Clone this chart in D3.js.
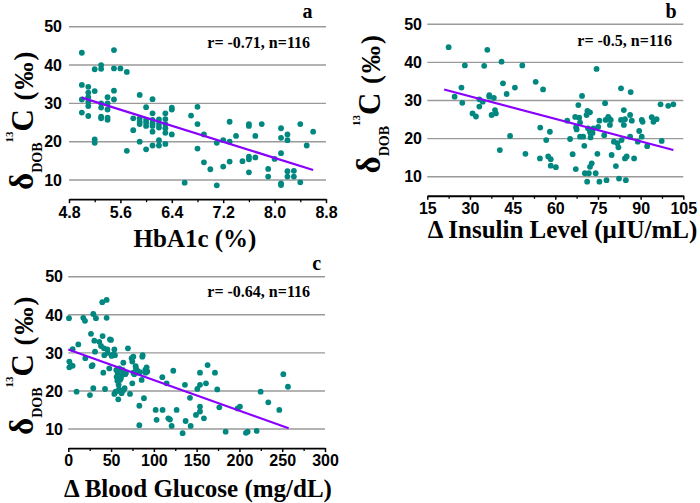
<!DOCTYPE html>
<html><head><meta charset="utf-8">
<script src="https://cdn.jsdelivr.net/npm/d3@7"></script>
<style>html,body{margin:0;padding:0;background:#fff;}svg{display:block;}</style>
</head><body>
<svg id="chart" width="700" height="503"></svg>
<script>
// ---------- DATA ----------
const yTicks = [10, 20, 30, 40, 50];

// Panel a: HbA1c (%)
const aTicks = [4.8, 5.6, 6.4, 7.2, 8.0, 8.8];
const aX = [5.0,5.5,5.0,5.1,5.0,5.1,5.1,5.0,5.1,5.1,5.1,5.2,5.3,5.3,5.5,5.6,5.7,5.2,5.3,5.3,5.3,5.3,5.4,5.4,5.4,5.4,5.4,5.5,5.5,5.2,5.2,5.7,5.8,5.8,5.9,5.9,5.9,5.9,5.9,6.0,6.0,6.0,6.0,6.0,6.1,6.1,6.1,6.1,6.1,6.1,6.1,6.2,6.2,6.2,6.2,6.2,6.3,6.3,6.3,6.3,6.3,6.3,6.4,6.4,6.4,6.6,6.7,6.8,6.8,6.8,6.9,6.9,7.0,7.1,7.1,7.2,7.2,7.3,7.3,7.3,7.4,7.5,7.6,7.6,7.6,7.6,7.6,7.7,7.7,7.8,7.9,7.9,8.0,8.1,8.1,8.1,8.1,8.1,8.2,8.2,8.2,8.2,8.3,8.3,8.4,8.4,8.5,8.6];
const aY = [43.2,43.9,34.8,34.3,31.0,31.6,30.4,27.6,29.3,26.7,32.8,38.9,40.0,39.0,39.1,39.1,38.2,33.2,30.0,28.9,26.5,26.1,31.6,30.0,28.4,26.3,25.7,33.3,31.0,20.6,19.7,17.6,26.1,23.0,32.2,26.1,25.2,24.6,20.0,29.0,25.7,25.0,24.1,18.0,31.1,27.4,25.7,24.8,24.1,22.6,19.0,25.8,24.6,23.7,20.4,19.0,27.4,25.9,24.6,23.5,22.3,19.4,28.9,28.4,21.9,9.3,26.8,29.1,24.6,18.2,21.9,14.6,12.8,8.6,19.7,20.4,13.5,25.2,20.0,14.8,21.5,14.9,24.6,24.1,16.1,15.4,12.0,15.9,21.5,24.6,12.9,10.9,15.5,23.5,21.0,17.0,9.1,8.7,21.9,20.4,12.3,10.9,12.4,10.9,24.6,9.4,19.0,22.6];
const aFitX = [5.0, 8.6];
const aFitY = [31.5, 12.6];

// Panel b: Insulin level
const bTicks = [15, 30, 45, 60, 75, 90, 105];
const bX = [22.5,24.6,27.0,27.3,28.2,30.9,32.1,33.3,33.3,34.5,35.0,36.1,36.8,36.8,37.6,38.4,38.8,39.1,40.5,41.1,41.6,42.9,44.1,45.8,48.4,49.5,53.1,54.6,54.7,55.7,56.8,57.5,58.1,58.4,58.4,60.2,64.2,65.2,66.1,67.0,67.3,67.5,67.2,68.1,68.4,68.7,68.7,69.4,69.8,70.2,70.4,71.0,71.3,71.5,71.8,71.2,72.2,72.2,72.4,72.4,72.8,72.2,73.1,73.4,74.2,74.5,74.8,75.1,75.5,75.5,77.2,77.5,77.7,78.0,78.6,78.9,79.2,79.5,79.8,80.6,81.3,81.8,82.2,82.4,83.1,83.1,83.3,84.1,84.1,84.5,84.5,84.8,85.1,86.3,86.3,86.5,86.9,87.7,89.0,89.5,90.4,90.4,90.7,92.3,93.9,94.5,95.6,97.0,97.4,99.7,101.5];
const bY = [44.0,31.0,33.4,29.4,39.2,26.6,25.8,30.3,28.4,29.7,39.1,43.3,31.0,31.4,26.2,30.7,27.5,26.6,17.0,40.2,34.5,31.7,20.7,33.4,39.2,16.0,34.9,14.8,22.9,32.9,19.6,15.3,21.8,14.6,12.9,12.5,24.7,19.9,15.9,25.7,23.0,22.4,12.0,28.8,25.5,24.2,20.5,31.2,20.5,18.1,10.9,26.2,27.3,22.7,10.9,8.7,26.9,21.8,20.3,21.5,13.5,12.6,21.5,22.7,10.9,38.3,16.0,23.1,24.7,8.7,20.9,29.3,24.9,9.1,25.7,25.3,23.6,24.9,15.7,19.2,12.8,18.8,17.7,9.5,33.2,24.9,19.6,27.5,23.6,25.1,14.8,9.1,15.3,20.5,26.2,32.2,24.7,14.8,19.2,22.0,20.5,24.9,24.4,18.0,25.6,24.4,25.1,29.0,19.4,28.6,29.0];
const bFitX = [20.9, 101.5];
const bFitY = [32.9, 17.0];

// Panel c: Blood glucose
const cTicks = [0, 50, 100, 150, 200, 250, 300];
const cX = [0.8,1.2,1.2,3.1,5.1,5.1,9.7,11.7,17.5,19.5,19.9,25.3,26.5,27.3,28.4,29.2,29.2,30.4,31.2,32.3,36.2,38.2,39.7,40.1,40.9,41.7,42.1,42.9,44.8,44.8,45.6,46.0,47.9,48.7,49.9,50.6,52.6,53.8,53.8,54.5,55.3,56.1,56.5,57.3,57.7,58.4,58.8,59.2,59.6,60.4,61.2,61.5,62.3,62.7,63.5,64.3,64.3,65.1,65.8,66.6,67.4,69.7,72.1,74.0,74.8,74.8,76.0,76.0,77.1,78.7,79.1,79.9,80.6,83.0,83.0,83.8,85.7,86.5,86.9,88.4,90.0,90.4,91.5,92.3,102.1,103.2,109.9,110.2,114.9,116.9,118.8,120.8,122.7,126.6,133.6,136.3,137.1,142.2,143.0,149.2,150.8,153.9,153.9,153.9,153.9,158.5,160.9,162.8,171.4,174.1,176.5,183.9,197.9,200.6,207.6,209.6,220.1,224.8,233.7,246.6,251.3,256.7];
const cY = [39.1,27.7,26.2,26.8,26.6,31.0,19.8,32.2,39.2,38.4,28.6,18.9,35.0,26.5,26.8,40.2,20.7,33.2,30.3,39.1,32.9,31.8,43.3,34.4,24.8,31.2,29.4,20.5,43.9,39.2,30.9,30.0,25.9,33.5,33.4,29.2,29.6,30.9,19.2,29.4,19.8,25.5,23.7,22.7,24.8,17.8,21.6,20.4,25.9,22.9,19.8,23.3,19.4,24.2,25.5,27.4,20.2,25.1,20.7,24.4,24.8,31.2,19.2,28.6,27.7,22.0,29.0,24.8,24.4,26.5,25.9,24.8,25.3,11.0,16.1,24.9,22.9,29.0,29.4,18.1,25.5,24.8,26.2,25.1,15.0,12.4,23.6,15.0,22.0,12.8,12.5,10.8,25.3,15.0,8.9,21.6,12.1,18.2,10.8,13.7,20.5,21.6,24.8,15.9,14.6,12.8,22.0,26.8,24.8,20.4,15.7,9.3,15.4,15.9,9.0,9.3,9.5,19.8,17.0,15.0,24.4,21.1];
const cFitX = [0, 257.5];
const cFitY = [30.9, 10.2];

const letters = ["a", "b", "c"];
const rTexts = ["r= -0.71, n=116", "r= -0.5, n=116", "r= -0.64, n=116"];
const xTitles = ["HbA1c (%)", "\u0394 Insulin Level (\u03bcIU/mL)", "\u0394 Blood Glucose (mg/dL)"];

// ---------- LAYOUT ----------
const panels = [
  {xs: aX, ys: aY, fx: aFitX, fy: aFitY, ticks: aTicks, xd: [4.8, 8.8], xr: [69, 326], y50: 26.7, y10: 180,
   letter: letters[0], letterX: 307.5, letterY: 18, r: rTexts[0], rX: 310, rY: 47.5,
   title: xTitles[0], titleX: 195, titleY: 247, labX: 33, labY: 190, tickLabX: 62},
  {xs: bX, ys: bY, fx: bFitX, fy: bFitY, ticks: bTicks, xd: [15, 105], xr: [427.3, 683.3], y50: 24.3, y10: 176.7,
   letter: letters[1], letterX: 671, letterY: 18, r: rTexts[1], rX: 672, rY: 45.5,
   title: xTitles[1], titleX: 562.5, titleY: 237.5, labX: 380, labY: 173.5, tickLabX: 422},
  {xs: cX, ys: cY, fx: cFitX, fy: cFitY, ticks: cTicks, xd: [0, 300], xr: [68.3, 325], y50: 276.7, y10: 429,
   letter: letters[2], letterX: 316.7, letterY: 270, r: rTexts[2], rX: 310, rY: 297,
   title: xTitles[2], titleX: 198, titleY: 496.5, labX: 33, labY: 435, tickLabX: 63}
];

const svg = d3.select("#chart");
const serif = "'Liberation Serif','Times New Roman',serif";
const sans = "'Liberation Sans',Arial,sans-serif";

panels.forEach(p => {
  const x = d3.scaleLinear().domain(p.xd).range(p.xr);
  const y = d3.scaleLinear().domain([10, 50]).range([p.y10, p.y50]);
  const yBottom = y(5);
  const g = svg.append("g");

  // gridlines
  g.selectAll(".grid").data(yTicks).join("line")
    .attr("x1", p.xr[0]).attr("x2", p.xr[1])
    .attr("y1", d => y(d)).attr("y2", d => y(d))
    .attr("stroke", "#9a9a9a").attr("stroke-width", 1.4);

  // y tick labels
  g.selectAll(".ylab").data(yTicks).join("text")
    .attr("x", p.tickLabX).attr("y", d => y(d)).attr("dy", "0.36em")
    .attr("text-anchor", "end")
    .style("font-family", sans).style("font-weight", "bold").style("font-size", "16px")
    .text(d => d);

  // x axis: minor ticks
  const step = p.ticks[1] - p.ticks[0];
  const minor = p.ticks.slice(0, -1).map(t => t + step / 2);
  const axisMinor = d3.axisBottom(x).tickValues(minor).tickSize(3).tickFormat("");
  const gm = g.append("g").attr("transform", `translate(0,${yBottom})`).call(axisMinor);
  gm.select(".domain").remove();
  gm.selectAll("line").attr("stroke", "#000").attr("stroke-width", 1.3);

  const axis = d3.axisBottom(x).tickValues(p.ticks).tickSize(4).tickSizeOuter(0).tickPadding(3)
    .tickFormat(d => (p.xd[1] < 20 ? d3.format(".1f")(d) : d));
  const ga = g.append("g").attr("transform", `translate(0,${yBottom})`).call(axis);
  ga.select(".domain").attr("stroke", "#000").attr("stroke-width", 1.8);
  ga.selectAll("line").attr("stroke", "#000").attr("stroke-width", 1.5);
  ga.selectAll("text").style("font-family", sans).style("font-weight", "bold")
    .style("font-size", "16px").attr("fill", "#000");

  // points
  g.selectAll(".pt").data(p.xs.map((v, i) => [v, p.ys[i]])).join("circle")
    .attr("cx", d => x(d[0])).attr("cy", d => y(d[1])).attr("r", 2.9)
    .attr("fill", "#008880");

  // fit line
  const line = d3.line().x(d => x(d[0])).y(d => y(d[1]));
  g.append("path").datum(p.fx.map((v, i) => [v, p.fy[i]]))
    .attr("d", line).attr("fill", "none").attr("stroke", "#8a00ff").attr("stroke-width", 2.2);

  // r text
  g.append("text").attr("x", p.rX).attr("y", p.rY).attr("text-anchor", "end")
    .style("font-family", serif).style("font-weight", "bold").style("font-size", "16px").text(p.r);

  // panel letter
  g.append("text").attr("x", p.letterX).attr("y", p.letterY).attr("text-anchor", "middle")
    .style("font-family", serif).style("font-weight", "bold").style("font-size", "20px").text(p.letter);

  // x title
  g.append("text").attr("x", p.titleX).attr("y", p.titleY).attr("text-anchor", "middle")
    .style("font-family", serif).style("font-weight", "bold").style("font-size", "25px").text(p.title);

  // y title
  const t = g.append("text").attr("transform", `translate(${p.labX},${p.labY}) rotate(-90)`)
    .style("font-family", serif).style("font-weight", "bold");
  t.append("tspan").style("font-size", "33px").text("\u03b4");
  t.append("tspan").style("font-size", "14px").attr("dy", 9).text("DOB");
  t.append("tspan").style("font-size", "11px").attr("dy", -29).text("13");
  t.append("tspan").style("font-size", "31px").attr("dy", 20).text("C");
  t.append("tspan").style("font-size", "27px").style("letter-spacing", "2px").text(" (\u2030)");
});
</script>
</body></html>
